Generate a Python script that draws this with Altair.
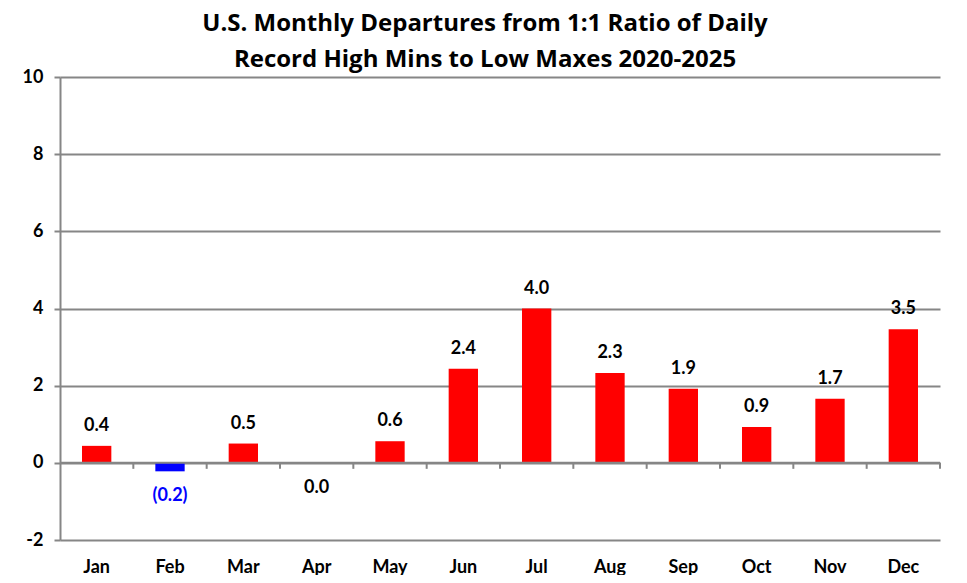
import altair as alt
import pandas as pd

months = ["Jan", "Feb", "Mar", "Apr", "May", "Jun", "Jul", "Aug", "Sep", "Oct", "Nov", "Dec"]
values = [0.44, -0.22, 0.50, 0.0, 0.56, 2.44, 4.00, 2.33, 1.92, 0.93, 1.66, 3.46]
y_ticks = [-2, 0, 2, 4, 6, 8, 10]
title_lines = ["U.S. Monthly Departures from 1:1 Ratio of Daily",
               "Record High Mins to Low Maxes 2020-2025"]

df = pd.DataFrame({"month": months, "value": values})

FONT = "Lato"
TITLE_FONT = "Open Sans"
GRAY = "#868686"
RED = "#FF0000"
BLUE = "#0000FF"
LABEL_SIZE = 18

x_main = alt.X(
    "month:N", sort=months,
    scale=alt.Scale(paddingInner=0, paddingOuter=0),
    axis=alt.Axis(title=None, labelAngle=0, domain=False, ticks=False, grid=False,
                  labelFont=FONT, labelFontSize=LABEL_SIZE, labelFontWeight="bold",
                  labelColor="black", labelPadding=18),
)
y_main = alt.Y(
    "value:Q",
    scale=alt.Scale(domain=[-2, 10], nice=False, zero=False),
    axis=alt.Axis(title=None, values=y_ticks, grid=True, gridColor=GRAY, gridWidth=2,
                  domainColor=GRAY, domainWidth=2, tickColor=GRAY, tickWidth=2, tickSize=6,
                  labelPadding=11, labelFont=FONT, labelFontSize=LABEL_SIZE,
                  labelFontWeight="bold", labelColor="black",
                  labelExpr="'' + datum.value"),
)
x_plain = alt.X("month:N", sort=months)

base = alt.Chart(df)

bars = base.mark_bar(width=alt.RelativeBandSize(0.4)).encode(
    x=x_main,
    y=y_main,
    color=alt.condition(alt.datum.value < 0, alt.value(BLUE), alt.value(RED)),
)

zero_line = alt.Chart(pd.DataFrame({"k": [0]})).mark_rule(color=GRAY, strokeWidth=2).encode(
    y=alt.Y(datum=0)
)

zero_ticks = base.mark_rule(color=GRAY, strokeWidth=2, y2Offset=6).encode(
    x=alt.X("month:N", sort=months, bandPosition=1),
    y=alt.Y(datum=0),
    y2=alt.Y2(datum=0),
)

labels_pos = base.transform_filter("datum.value > 0").transform_calculate(
    label="format(datum.value, '.1f')"
).mark_text(font=FONT, fontSize=LABEL_SIZE, fontWeight="bold", baseline="alphabetic",
            dy=-15, color="black").encode(
    x=x_plain, y="value:Q", text="label:N"
)

labels_neg = base.transform_filter("datum.value <= 0").transform_calculate(
    label="datum.value < 0 ? '(' + format(-datum.value, '.1f') + ')' : format(datum.value, '.1f')"
).mark_text(font=FONT, fontSize=LABEL_SIZE, fontWeight="bold", baseline="alphabetic",
            dy=30).encode(
    x=x_plain, y="value:Q", text="label:N",
    color=alt.condition(alt.datum.value < 0, alt.value(BLUE), alt.value("black")),
)

chart = alt.layer(bars, zero_line, zero_ticks, labels_pos, labels_neg).properties(
    width=880,
    height=463,
    title=alt.TitleParams(title_lines, font=TITLE_FONT, fontSize=24, fontWeight="bold",
                          lineHeight=36, anchor="middle", dx=-15, dy=10, offset=6,
                          color="black"),
    autosize=alt.AutoSizeParams(type="none"),
    padding={"left": 52, "top": 69, "right": 19, "bottom": 35},
    background="white",
).configure_view(stroke=None)

chart.save("out.html", embed_options={"renderer": "svg", "actions": False})
